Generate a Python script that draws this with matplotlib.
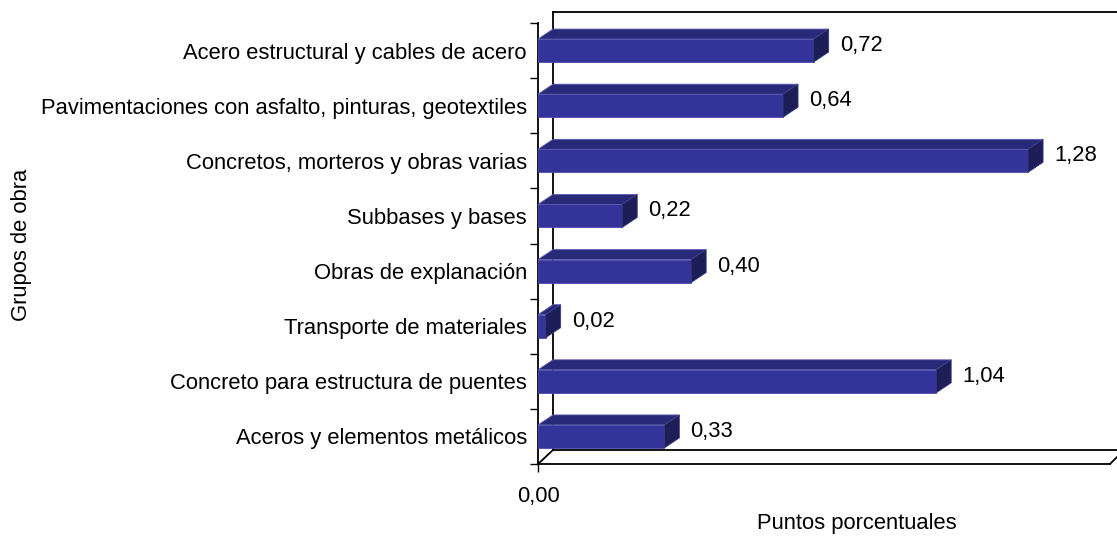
import matplotlib.pyplot as plt
from matplotlib.patches import Polygon

# Data (bottom to top)
categories = ['Aceros y elementos metálicos',
              'Concreto para estructura de puentes',
              'Transporte de materiales',
              'Obras de explanación',
              'Subbases y bases',
              'Concretos, morteros y obras varias',
              'Pavimentaciones con asfalto, pinturas, geotextiles',
              'Acero estructural y cables de acero']
values = [0.33, 1.04, 0.02, 0.40, 0.22, 1.28, 0.64, 0.72]

plt.rcParams['font.family'] = ['Liberation Sans', 'DejaVu Sans']
fs = 15.8

W, H = 1117, 541
fig = plt.figure(figsize=(W / 100, H / 100), dpi=100)

# plot frame in pixels
left, right, top, bottom = 538, 1110, 23, 464
ax = fig.add_axes([left / W, 1 - bottom / H, (right - left) / W, (bottom - top) / H])
xmax = 1.494
ax.set_xlim(0, xmax)
ax.set_ylim(-0.5, len(categories) - 0.5)

px_x = xmax / (right - left)          # data units per pixel
px_y = len(categories) / (bottom - top)

front = '#333399'
topc = '#29297a'
side = '#1d1d57'

bar_h = 23 * px_y
bdx, bdy = 15 * px_x, 10 * px_y

for i, v in enumerate(values):
    y0 = i - bar_h / 2
    y1 = i + bar_h / 2
    # front face
    ax.add_patch(Polygon([(0, y0), (v, y0), (v, y1), (0, y1)], closed=True,
                         facecolor=front, edgecolor='#4a4aaa', lw=0.6, zorder=3))
    # top face
    ax.add_patch(Polygon([(0, y1), (v, y1), (v + bdx, y1 + bdy), (bdx, y1 + bdy)], closed=True,
                         facecolor=topc, edgecolor='#5c5cb0', lw=0.6, zorder=3, clip_on=False))
    # side face
    ax.add_patch(Polygon([(v, y0), (v + bdx, y0 + bdy), (v + bdx, y1 + bdy), (v, y1)], closed=True,
                         facecolor=side, edgecolor='#3a3a80', lw=0.6, zorder=3, clip_on=False))
    ax.text(v + bdx + 11 * px_x, i + bdy / 2, f'{v:.2f}'.replace('.', ','),
            fontsize=fs, va='center', ha='left', zorder=4)

# back wall and floor
wdx, wdy = 15 * px_x, 14 * px_y
ylo, yhi = -0.5, len(categories) - 0.5
wall_top = yhi + 11 * px_y
kw = dict(color='black', lw=1.3, clip_on=False, zorder=2)
ax.plot([wdx, wdx], [ylo + wdy, wall_top], **kw)
ax.plot([wdx, xmax + 20 * px_x], [wall_top, wall_top], **kw)
ax.plot([0, wdx], [ylo, ylo + wdy], **kw)
ax.plot([wdx, xmax + 20 * px_x], [ylo + wdy, ylo + wdy], **kw)
ax.plot([0, xmax], [ylo, ylo], **kw)
ax.plot([xmax, xmax + 7 * px_x], [ylo, ylo + 7 * px_y], **kw)

for s in ['top', 'right', 'bottom']:
    ax.spines[s].set_visible(False)
ax.spines['left'].set_linewidth(1.3)

ax.set_yticks([k - 0.5 for k in range(len(categories) + 1)])
ax.set_yticklabels([])
ax.set_yticks(range(len(categories)), minor=True)
ax.set_yticklabels(categories, minor=True, fontsize=fs)
ax.tick_params(axis='y', which='major', length=6, width=1)
ax.tick_params(axis='y', which='minor', length=0, pad=8)

ax.set_xticks([0])
ax.set_xticklabels(['0,00'], fontsize=fs)
ax.tick_params(axis='x', length=6, width=1, pad=10)

fig.text(857 / W, 1 - 523 / H, 'Puntos porcentuales', fontsize=fs, ha='center', va='center')
fig.text(22 / W, 1 - 245 / H, 'Grupos de obra', fontsize=fs, ha='center', va='center',
         rotation=90)

fig.savefig('out.png', dpi=100)
